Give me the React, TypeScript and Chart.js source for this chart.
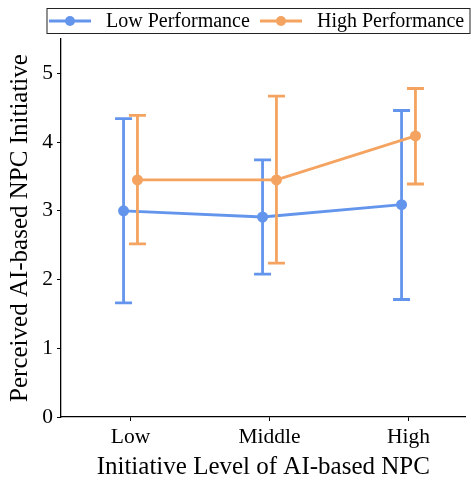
import React, { useEffect, useRef } from 'react';
import { Chart, registerables } from 'chart.js';

Chart.register(...registerables);

const categories = ['Low', 'Middle', 'High'];
const seriesNames = ['Low Performance', 'High Performance'];
const lowPerfMean = [3.0, 2.91, 3.09];
const lowPerfUpper = [4.34, 3.74, 4.46];
const lowPerfLower = [1.66, 2.08, 1.71];
const highPerfMean = [3.45, 3.45, 4.09];
const highPerfUpper = [4.39, 4.67, 4.78];
const highPerfLower = [2.52, 2.24, 3.39];
const yTicks = [0, 1, 2, 3, 4, 5];

const FONT = "'Times New Roman', 'Liberation Serif', serif";
const BLUE = '#6495ED';
const ORANGE = '#F4A460';
const OFFSET = 0.05;

const errorBarPlugin = {
  id: 'errorBars',
  beforeDatasetDraw(chart: any, args: any) {
    const ds = chart.data.datasets[args.index];
    const ctx = chart.ctx;
    const xs = chart.scales.x;
    const ys = chart.scales.y;
    ctx.save();
    ctx.strokeStyle = ds.borderColor;
    ctx.lineWidth = 2.8;
    ctx.lineCap = 'butt';
    ds.data.forEach((p: any, i: number) => {
      const px = xs.getPixelForValue(p.x);
      const top = ys.getPixelForValue(ds.upper[i]);
      const bot = ys.getPixelForValue(ds.lower[i]);
      ctx.beginPath();
      ctx.moveTo(px, top);
      ctx.lineTo(px, bot);
      ctx.moveTo(px - 8.5, top);
      ctx.lineTo(px + 8.5, top);
      ctx.moveTo(px - 8.5, bot);
      ctx.lineTo(px + 8.5, bot);
      ctx.stroke();
    });
    ctx.restore();
  },
};

const legendPlugin = {
  id: 'boxLegend',
  afterDraw(chart: any) {
    const ctx = chart.ctx;
    ctx.save();
    ctx.strokeStyle = '#222';
    ctx.lineWidth = 1;
    ctx.strokeRect(47, 8.5, 423, 25);
    const items = [
      { color: BLUE, x: 49, text: seriesNames[0] },
      { color: ORANGE, x: 260, text: seriesNames[1] },
    ];
    const y = 21;
    items.forEach((it) => {
      ctx.strokeStyle = it.color;
      ctx.lineWidth = 2.8;
      ctx.beginPath();
      ctx.moveTo(it.x, y);
      ctx.lineTo(it.x + 42, y);
      ctx.stroke();
      ctx.fillStyle = it.color;
      ctx.beginPath();
      ctx.arc(it.x + 21, y, 5, 0, Math.PI * 2);
      ctx.fill();
      ctx.fillStyle = '#000';
      ctx.font = `20px ${FONT}`;
      ctx.textBaseline = 'middle';
      ctx.textAlign = 'left';
      ctx.fillText(it.text, it.x + 57, y + 1);
    });
    ctx.restore();
  },
};

export default function App() {
  const ref = useRef<HTMLCanvasElement>(null);
  useEffect(() => {
    if (!ref.current) return;
    const mk = (means: number[], off: number) => means.map((v, i) => ({ x: i + off, y: v }));
    const chart = new Chart(ref.current, {
      type: 'scatter',
      data: {
        datasets: [
          {
            label: seriesNames[0],
            data: mk(lowPerfMean, -OFFSET),
            upper: lowPerfUpper,
            lower: lowPerfLower,
            showLine: true,
            borderColor: BLUE,
            backgroundColor: BLUE,
            borderWidth: 2.8,
            pointRadius: 5.5,
            pointBorderWidth: 0,
            order: 1,
          } as any,
          {
            label: seriesNames[1],
            data: mk(highPerfMean, OFFSET),
            upper: highPerfUpper,
            lower: highPerfLower,
            showLine: true,
            borderColor: ORANGE,
            backgroundColor: ORANGE,
            borderWidth: 2.8,
            pointRadius: 5.5,
            pointBorderWidth: 0,
            order: 0,
          } as any,
        ],
      },
      options: {
        animation: false,
        responsive: true,
        maintainAspectRatio: false,
        layout: { padding: { top: 39, left: 0, right: 0, bottom: 0 } },
        plugins: { legend: { display: false }, tooltip: { enabled: false } },
        scales: {
          x: {
            type: 'linear',
            min: -0.5,
            max: 2.41,
            afterBuildTicks: (s: any) => {
              s.ticks = categories.map((_, i) => ({ value: i }));
            },
            afterFit: (s: any) => {
              s.height = 67;
            },
            border: { display: true, color: '#000', width: 1.3 },
            grid: { display: true, drawOnChartArea: false, drawTicks: true, tickLength: 4, color: '#000', lineWidth: 1 },
            ticks: {
              color: '#000',
              font: { family: FONT, size: 21.5 },
              padding: 3,
              maxRotation: 0,
              callback: (v: any) => categories[Math.round(Number(v))] ?? '',
            },
            title: {
              display: true,
              text: 'Initiative Level of AI-based NPC',
              color: '#000',
              font: { family: FONT, size: 25 },
              padding: { top: 0, bottom: 2 },
            },
          },
          y: {
            type: 'linear',
            min: 0,
            max: 5.5,
            afterBuildTicks: (s: any) => {
              s.ticks = yTicks.map((v) => ({ value: v }));
            },
            afterFit: (s: any) => {
              s.width = 61;
            },
            border: { display: true, color: '#000', width: 1.3 },
            grid: { display: true, drawOnChartArea: false, drawTicks: true, tickLength: 4, color: '#000', lineWidth: 1 },
            ticks: {
              color: '#000',
              font: { family: FONT, size: 21.5 },
              padding: 4,
            },
            title: {
              display: true,
              text: 'Perceived AI-based NPC Initiative',
              color: '#000',
              font: { family: FONT, size: 25 },
              padding: { top: 5, bottom: 0 },
            },
          },
        },
      } as any,
      plugins: [errorBarPlugin, legendPlugin],
    });
    return () => chart.destroy();
  }, []);
  return (
    <div style={{ position: 'absolute', left: 0, top: 0, width: 471, height: 484 }}>
      <canvas ref={ref} />
    </div>
  );
}
